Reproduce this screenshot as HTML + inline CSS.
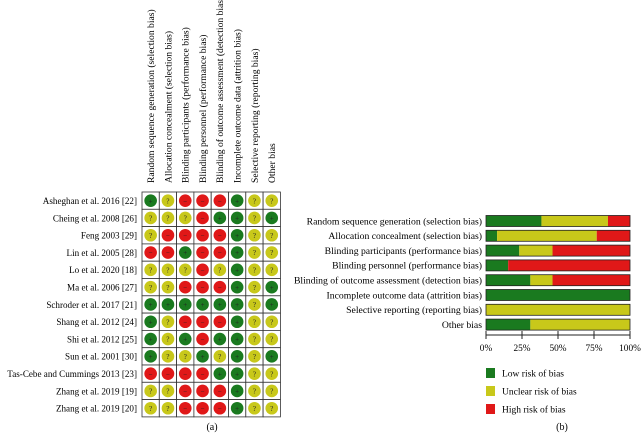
<!DOCTYPE html>
<html><head><meta charset="utf-8"><style>
body{margin:0;background:#fff;}
svg{display:block;font-family:"Liberation Serif",serif;}
</style></head><body>
<svg width="641" height="435" viewBox="0 0 641 435">
<g id="grid"></g>
<g id="bars"></g>
<text x="212" y="430" font-size="10" text-anchor="middle">(a)</text>
<text x="562" y="430" font-size="10" text-anchor="middle">(b)</text>
</svg>
<script>
const studies=["Asheghan et al. 2016 [22]","Cheing et al. 2008 [26]","Feng 2003 [29]","Lin et al. 2005 [28]","Lo et al. 2020 [18]","Ma et al. 2006 [27]","Schroder et al. 2017 [21]","Shang et al. 2012 [24]","Shi et al. 2012 [25]","Sun et al. 2001 [30]","Tas-Cebe and Cummings 2013 [23]","Zhang et al. 2019 [19]","Zhang et al. 2019 [20]"];
const domains=["Random sequence generation (selection bias)","Allocation concealment (selection bias)","Blinding participants (performance bias)","Blinding personnel (performance bias)","Blinding of outcome assessment (detection bias)","Incomplete outcome data (attrition bias)","Selective reporting (reporting bias)","Other bias"];
const judgements=["GYRRRGYY","YYYRGGYG","YRRRRGYY","RRGRRGYY","YYYRYGYY","YYRRRGYG","GGGGGGYG","GYRRRGYY","GYGRGGYY","GYYGYGYG","RRRRGGYY","YYRRRGYY","YYRRRGYY"];
const lowPct=[38.5,7.7,23.1,15.4,30.8,100,0,30.8];
const unclearPct=[46.2,69.2,23.1,0,15.4,0,100,69.2];
const highPct=[15.4,23.1,53.8,84.6,53.8,0,0,0];
const tickLabels=["0%","25%","50%","75%","100%"];
const tickVals=[0,25,50,75,100];
const legendLabels=["Low risk of bias","Unclear risk of bias","High risk of bias"];

const NS="http://www.w3.org/2000/svg";
const col={G:"#1a7a1f",Y:"#c8c81a",R:"#e01818"};
const sym={G:"+",Y:"?",R:"−"};
function mk(tag,attrs,parent){const e=document.createElementNS(NS,tag);for(const k in attrs)e.setAttribute(k,attrs[k]);parent.appendChild(e);return e;}
const grid=document.getElementById('grid');
const gx=142,gy=192,cw=17.3,rh=17.3;
const cx=i=>gx+cw*i+cw/2, cy=j=>gy+rh*j+rh/2;
domains.forEach((d,i)=>{
 const t=mk('text',{x:0,y:0,'font-size':9.6,transform:`translate(${cx(i)+3.3},183) rotate(-90)`},grid);
 
 
 t.textContent=d;
});
studies.forEach((s,j)=>{
 const t=mk('text',{x:137,y:cy(j)+3.3,'font-size':9.1,'text-anchor':'end'},grid);
 
 
 t.textContent=s;
 for(let i=0;i<domains.length;i++){
  const v=judgements[j][i];
  mk('rect',{x:gx+cw*i,y:gy+rh*j,width:cw,height:rh,fill:'#fff',stroke:'#333','stroke-width':0.8},grid);
  const c=mk('circle',{cx:cx(i),cy:cy(j),r:6.3,fill:col[v]},grid);
  
  
  const st=mk('text',{x:cx(i),y:cy(j)+2.6,'font-size':7,'text-anchor':'middle',fill:'#222'},grid);
  st.textContent=sym[v];
 }
});
const bars=document.getElementById('bars');
const x0=486,x1=630;
const xs=v=>x0+(x1-x0)*v/100;
const by=i=>221+14.8*i;
domains.forEach((d,i)=>{
 const t=mk('text',{x:482,y:by(i)+3.3,'font-size':9.7,'text-anchor':'end'},bars);
 
 
 t.textContent=d;
 let acc=0;
 [[lowPct[i],col.G],[unclearPct[i],col.Y],[highPct[i],col.R]].forEach(([v,c])=>{
  if(v>0){const r=mk('rect',{x:xs(acc),y:by(i)-5.5,width:xs(acc+v)-xs(acc),height:11,fill:c},bars);
   
   }
  acc+=v;
 });
 mk('rect',{x:x0,y:by(i)-5.5,width:x1-x0,height:11,fill:'none',stroke:'#222','stroke-width':0.8},bars);
});
mk('line',{x1:x0,x2:x1,y1:335,y2:335,stroke:'#222','stroke-width':1},bars);
tickVals.forEach((v,k)=>{
 mk('line',{x1:xs(v),x2:xs(v),y1:331,y2:339,stroke:'#222','stroke-width':1},bars);
 const t=mk('text',{x:xs(v),y:351,'font-size':9.3,'text-anchor':'middle'},bars);
 
 
 t.textContent=tickLabels[k];
});
[col.G,col.Y,col.R].forEach((c,k)=>{
 const y=373+18*k;
 mk('rect',{x:486,y:y-5,width:9,height:10,fill:c},bars);
 const t=mk('text',{x:502,y:y+3.5,'font-size':9.5},bars);
 
 
 t.textContent=legendLabels[k];
});
</script>
</body></html>
